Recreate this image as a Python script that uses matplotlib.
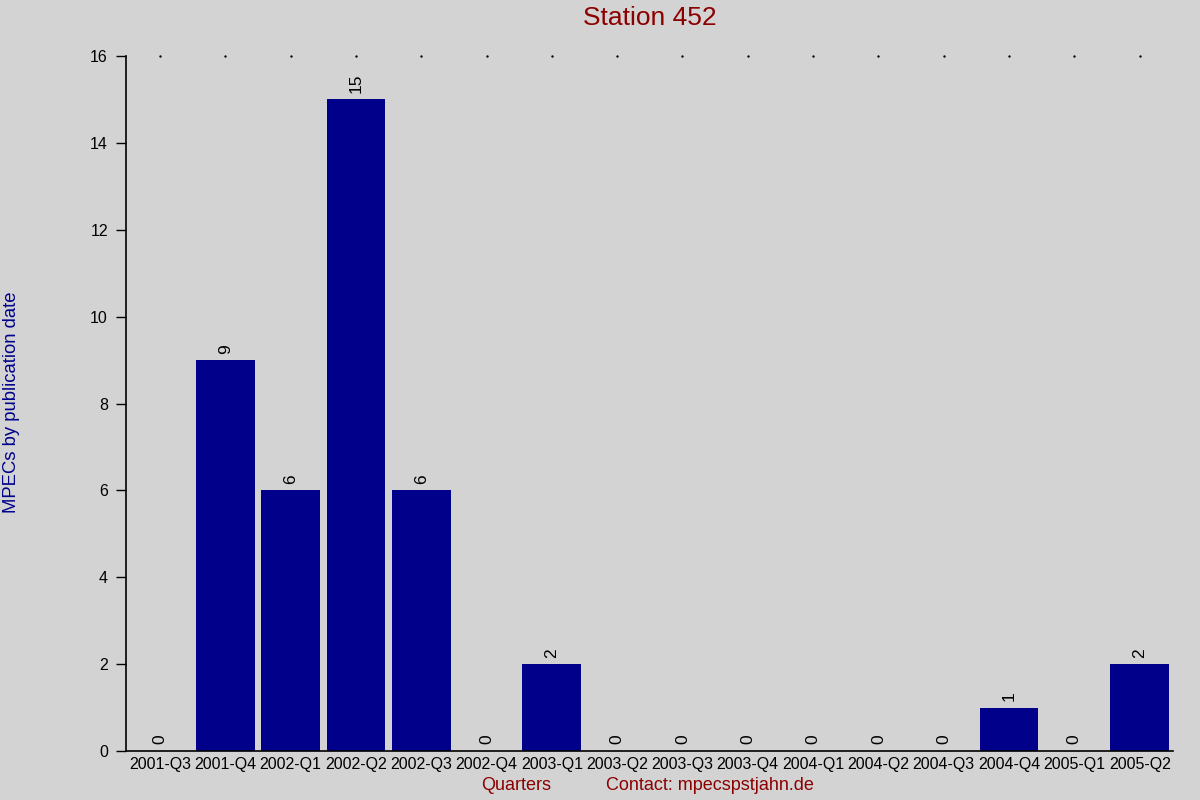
import numpy as np
import matplotlib
matplotlib.use('Agg')
import matplotlib.pyplot as plt

# MPECs per quarter for station 452
quarters = ['2001-Q3', '2001-Q4', '2002-Q1', '2002-Q2', '2002-Q3', '2002-Q4',
            '2003-Q1', '2003-Q2', '2003-Q3', '2003-Q4', '2004-Q1', '2004-Q2',
            '2004-Q3', '2004-Q4', '2005-Q1', '2005-Q2']
counts = [0, 9, 6, 15, 6, 0, 2, 0, 0, 0, 0, 0, 0, 1, 0, 2]
y_ticks = [0, 2, 4, 6, 8, 10, 12, 14, 16]

bg = '#d3d3d3'
bar_color = '#00008b'
red = '#8b0000'

plt.rcParams['font.family'] = ['Liberation Sans', 'DejaVu Sans']

fig = plt.figure(figsize=(12, 8), dpi=100, facecolor=bg)
ax = fig.add_axes([0.105, 0.06125, 0.8725, 0.86875], facecolor=bg)

x = np.arange(len(quarters))
bars = ax.bar(x, counts, width=0.9, color=bar_color)

for xi, c in zip(x, counts):
    ax.text(xi, c + 0.15, str(c), rotation=90, ha='center', va='bottom',
            fontsize=12.5, color='black')

# small dots along the top of the plot
ax.plot(x, [y_ticks[-1]] * len(x), linestyle='none', marker='o',
        markersize=0.7, color='black', clip_on=False)

ax.set_xlim(-0.52, len(quarters) - 0.49)
ax.set_ylim(0, 16)
ax.set_yticks(y_ticks)
ax.set_xticks(x)
ax.set_xticklabels(quarters, fontsize=11.5)
ax.tick_params(axis='x', length=0, pad=4)
ax.tick_params(axis='y', direction='out', length=7, width=1, labelsize=11.5, pad=6)

for side in ['top', 'right']:
    ax.spines[side].set_visible(False)
ax.spines['left'].set_linewidth(1.2)
ax.spines['bottom'].set_linewidth(1.2)

fig.text(649.5 / 1200, 1 - 18 / 800, 'Station 452', color=red, fontsize=19,
         ha='center', va='center')
fig.text(12 / 1200, 1 - 402 / 800, 'MPECs by publication date', color=bar_color,
         fontsize=13.3, rotation=90, ha='center', va='center')
fig.text(516 / 1200, 1 - 786 / 800, 'Quarters', color=red, fontsize=13,
         ha='center', va='center')
fig.text(710 / 1200, 1 - 786 / 800, 'Contact: mpecspstjahn.de', color=red,
         fontsize=13, ha='center', va='center')

plt.savefig('out.png', dpi=100, facecolor=bg)
plt.close()
